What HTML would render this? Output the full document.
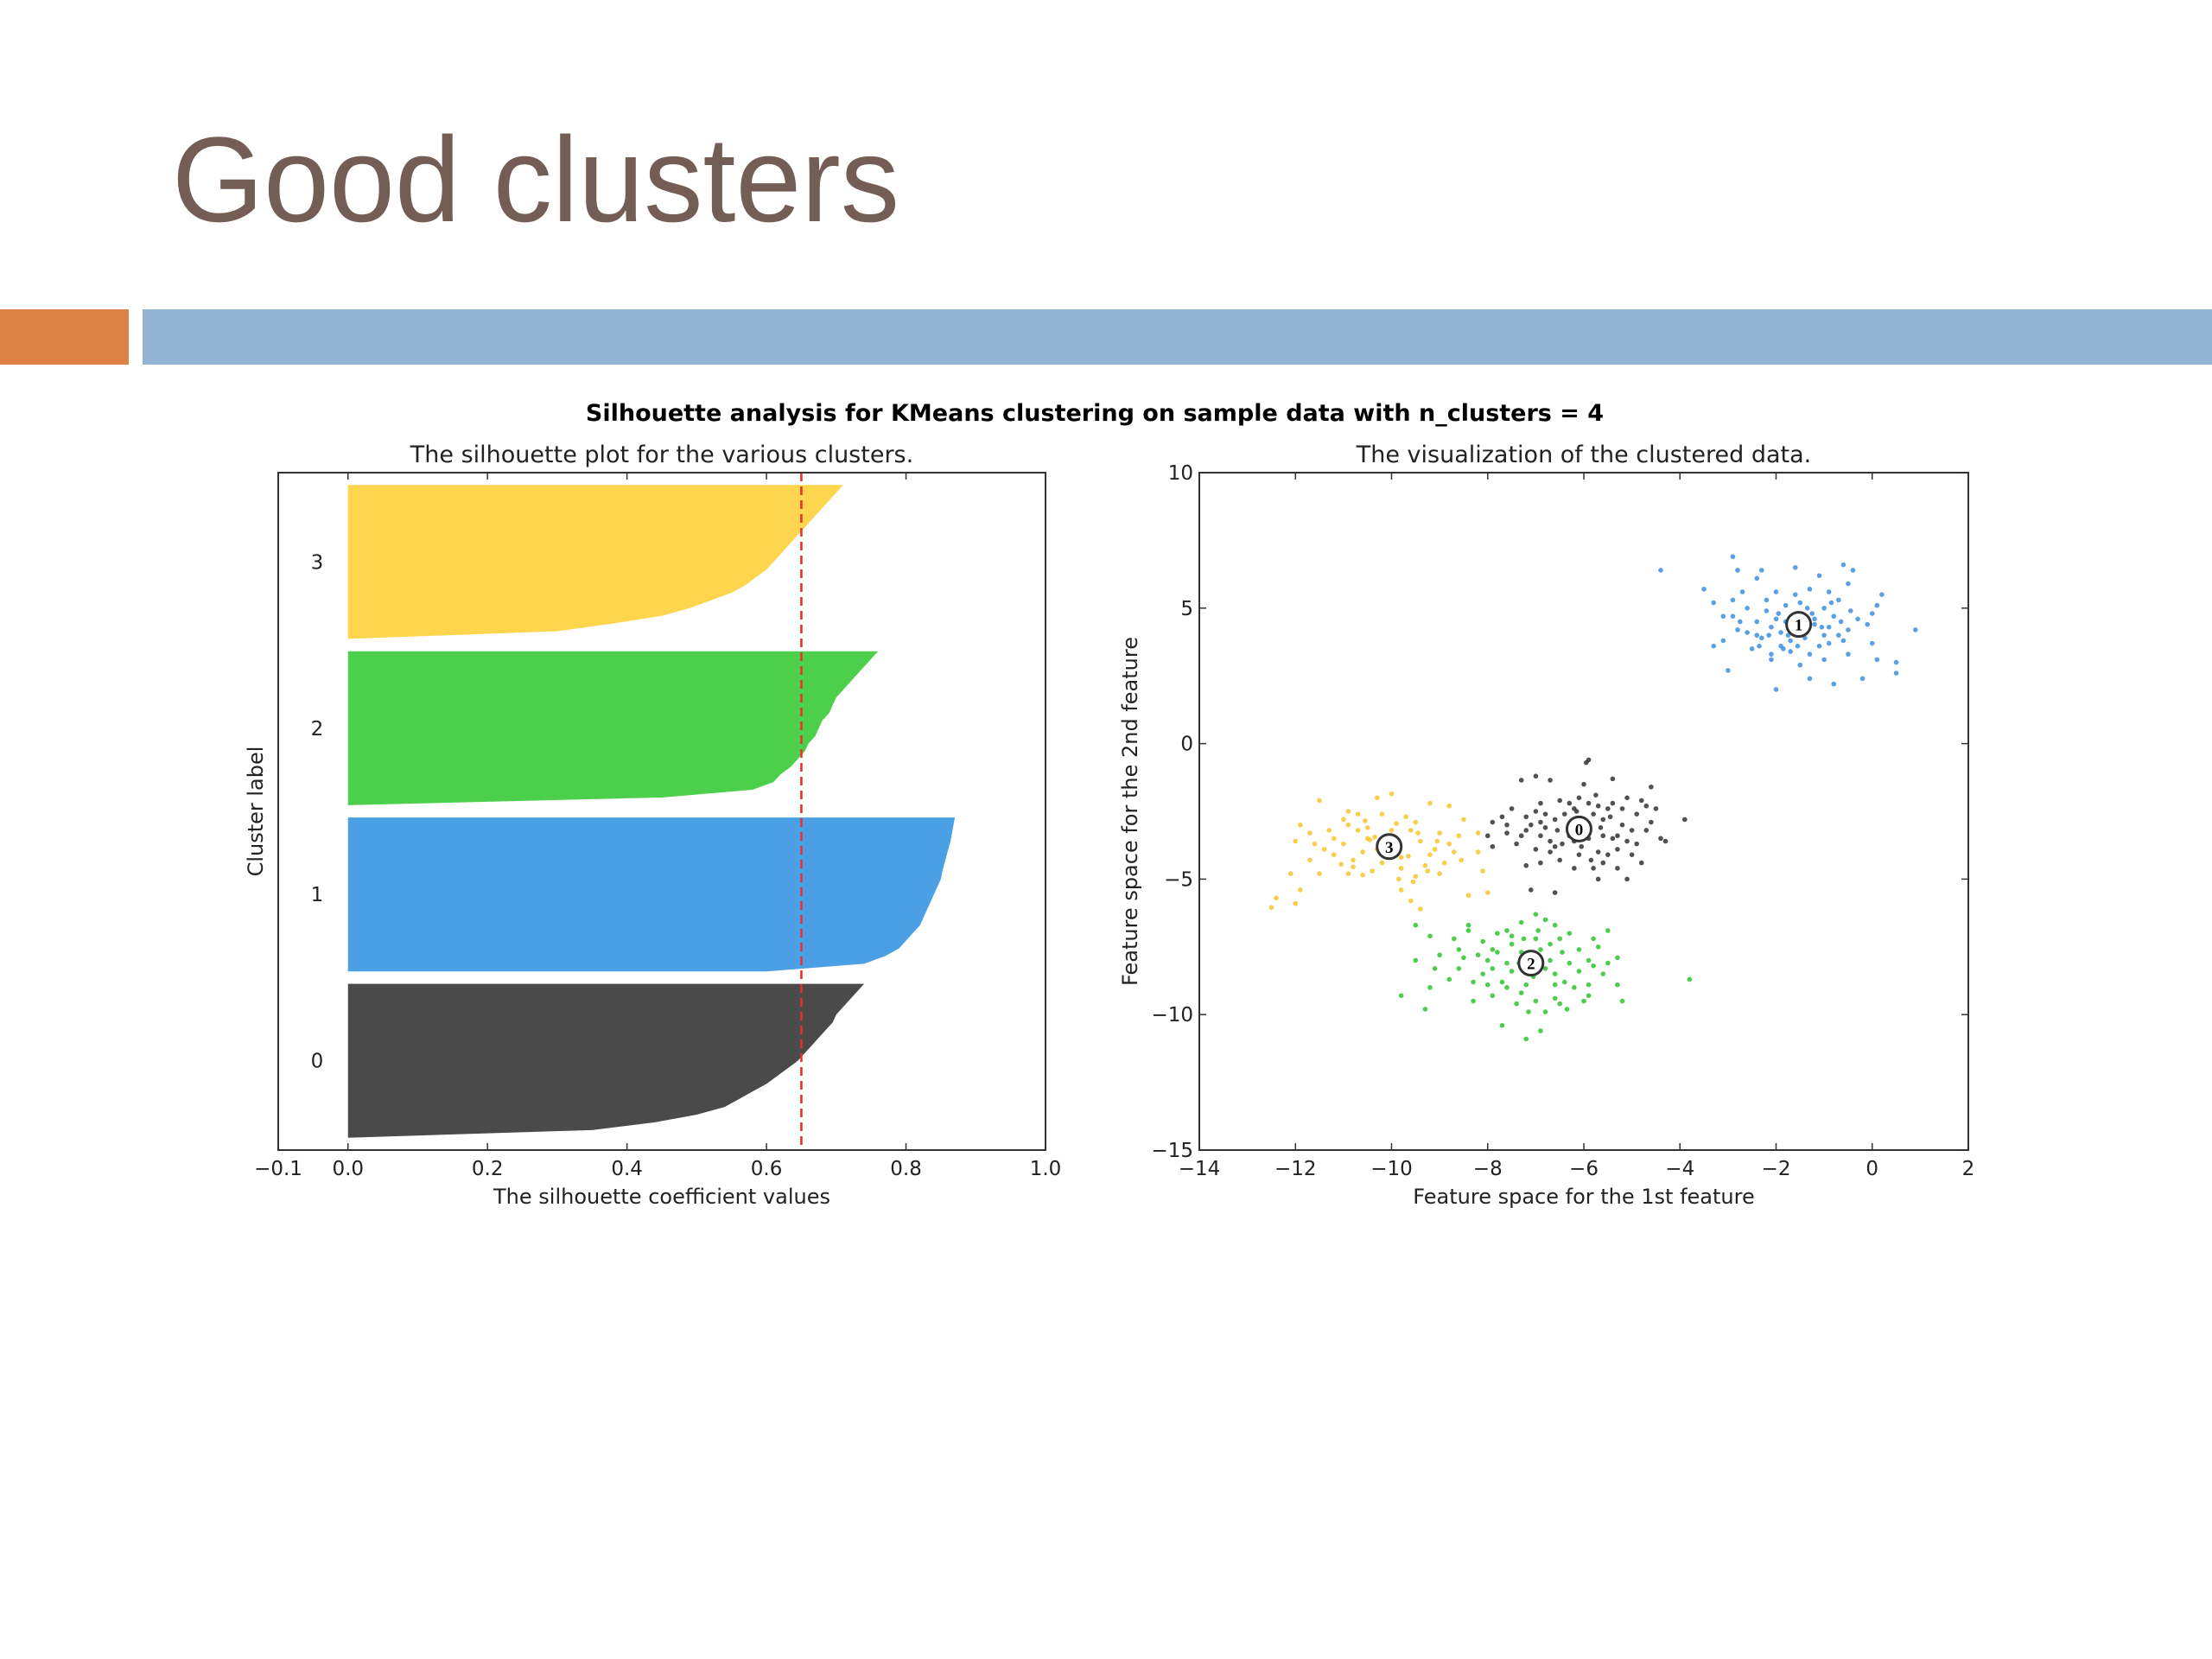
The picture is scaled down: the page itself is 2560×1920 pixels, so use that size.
<!DOCTYPE html>
<html><head><meta charset="utf-8"><style>
html,body{margin:0;padding:0;background:#fff;}
svg{display:block;}
text{font-family:"DejaVu Sans","Liberation Sans",sans-serif;fill:#222;}
</style></head><body>
<svg id="root" width="2560" height="1920" viewBox="0 0 2560 1920" xmlns="http://www.w3.org/2000/svg">
<rect width="2560" height="1920" fill="#fff"/>
<text x="199" y="256" font-size="140" textLength="842" lengthAdjust="spacingAndGlyphs" style="font-family:'Liberation Sans',sans-serif;fill:#745d55;">Good clusters</text>
<rect x="0" y="358" width="149" height="64" fill="#dd8145"/>
<rect x="165" y="358" width="2395" height="64" fill="#93b3d3"/>
<text x="1267" y="487" font-size="27" font-weight="bold" text-anchor="middle" style="fill:#000">Silhouette analysis for KMeans clustering on sample data with n_clusters = 4</text>
<g id="left"></g>
<g id="right"></g>
</svg>
<script>
// ---------- Silhouette data ----------
const clusterLabels = ["0","1","2","3"];
const clusterSizes = [125,125,125,125];
// sorted silhouette values sampled bottom->top at 21 evenly spaced fractions
const silC0 = [0.0,0.35,0.44,0.5,0.54,0.56,0.58,0.6,0.615,0.63,0.645,0.655,0.665,0.675,0.685,0.695,0.7,0.71,0.72,0.73,0.74];
const silC1 = [0.6,0.74,0.77,0.79,0.80,0.81,0.82,0.825,0.83,0.835,0.84,0.845,0.85,0.852,0.855,0.858,0.861,0.864,0.866,0.868,0.87];
const silC2 = [0.0,0.45,0.58,0.61,0.62,0.635,0.645,0.655,0.66,0.67,0.675,0.68,0.69,0.695,0.70,0.71,0.72,0.73,0.74,0.75,0.76];
const silC3 = [0.0,0.3,0.38,0.45,0.49,0.52,0.55,0.57,0.585,0.6,0.61,0.62,0.63,0.64,0.65,0.66,0.67,0.68,0.69,0.70,0.71];
const silAvg = 0.65;
const silXTicks = [-0.1,0.0,0.2,0.4,0.6,0.8,1.0];
const silXTickLabels = ["\u22120.1","0.0","0.2","0.4","0.6","0.8","1.0"];

// ---------- Scatter data ----------
const pts0 = [[-5.9,-0.6],[-5.95,-0.7],[-6.0,-1.5],[-7.0,-1.2],[-7.3,-1.35],[-6.7,-1.35],[-5.4,-1.3],[-4.6,-1.6],[-4.8,-2.1],[-4.7,-2.3],[-5.1,-2.0],[-5.4,-2.2],[-5.7,-2.3],[-6.1,-2.0],[-6.3,-2.2],[-6.5,-2.1],[-6.9,-2.2],[-7.2,-2.7],[-7.6,-3.0],[-7.1,-3.0],[-6.8,-3.1],[-6.6,-2.8],[-6.4,-2.6],[-5.8,-2.6],[-5.6,-2.8],[-5.2,-3.0],[-5.0,-3.2],[-5.6,-3.4],[-5.9,-3.5],[-6.3,-3.4],[-6.7,-3.6],[-7.0,-3.9],[-7.4,-3.7],[-7.6,-3.3],[-7.9,-3.8],[-8.0,-3.4],[-7.9,-2.9],[-3.9,-2.8],[-4.3,-3.6],[-4.4,-3.5],[-4.9,-3.7],[-5.3,-3.9],[-5.7,-4.0],[-6.1,-4.1],[-6.5,-4.3],[-6.9,-4.4],[-7.2,-4.5],[-5.8,-4.6],[-5.3,-4.6],[-4.8,-4.4],[-5.1,-5.0],[-5.7,-5.0],[-6.6,-5.5],[-7.1,-5.4],[-6.2,-4.6],[-6.6,-3.8],[-5.4,-3.5],[-6.0,-2.9],[-5.5,-4.1],[-6.3,-3.0],[-7.3,-3.4],[-4.9,-2.6],[-5.2,-2.4],[-6.8,-2.6],[-7.5,-2.4],[-5.75,-1.9],[-6.15,-2.5],[-5.45,-2.7],[-6.45,-3.7],[-5.85,-4.3],[-6.2,-2.4],[-5.5,-2.4],[-6.9,-3.4],[-7.2,-3.2],[-5.3,-3.4],[-5.1,-3.6],[-6.05,-3.8],[-5.65,-3.1],[-6.55,-3.2],[-4.6,-2.9],[-7.0,-2.5],[-5.9,-2.2],[-6.7,-4.0],[-4.5,-2.4],[-5.6,-4.4],[-6.9,-2.9],[-7.7,-2.7],[-5.0,-4.1],[-4.7,-3.2],[-6.2,-3.6]];
const pts1 = [[-4.4,6.4],[-2.9,6.9],[-2.8,6.4],[-2.3,6.4],[-1.6,6.5],[-0.6,6.6],[-0.4,6.4],[-1.1,6.2],[-2.4,6.1],[-3.5,5.7],[-3.3,5.2],[-2.9,5.3],[-2.7,5.6],[-2.0,5.6],[-1.6,5.5],[-1.3,5.7],[-0.9,5.6],[-0.5,5.9],[0.2,5.5],[-0.7,5.3],[-1.0,5.0],[-1.8,5.1],[-2.2,4.9],[-2.6,5.0],[-3.1,4.7],[-2.9,4.7],[-2.4,4.5],[-2.1,4.3],[-1.9,4.1],[-1.2,4.6],[-0.8,4.7],[-0.3,4.6],[0.0,4.8],[0.1,5.1],[0.9,4.2],[-0.1,4.4],[-0.5,4.2],[-1.0,4.0],[-1.4,3.9],[-1.7,3.8],[-2.3,3.9],[-2.8,4.2],[-3.1,3.8],[-3.3,3.6],[-2.5,3.5],[-2.1,3.3],[-1.7,3.4],[-1.3,3.3],[-0.9,3.7],[-0.6,3.8],[0.0,3.7],[0.5,3.0],[0.1,3.1],[0.5,2.6],[-0.5,3.3],[-1.0,3.1],[-1.5,2.9],[-1.9,3.6],[-2.1,3.1],[-3.0,2.7],[-1.3,2.4],[-0.8,2.2],[-2.0,2.0],[-0.2,2.4],[-1.6,4.3],[-1.8,4.5],[-1.4,4.2],[-1.2,4.4],[-2.6,4.1],[-0.9,4.3],[-1.5,5.2],[-2.0,4.6],[-0.7,4.0],[-1.1,3.6],[-2.4,4.0],[-1.75,4.0],[-1.55,3.6],[-1.85,3.5],[-1.25,4.8],[-1.05,4.3],[-0.85,5.2],[-2.2,5.3],[-2.75,4.5],[-1.95,4.8],[-1.35,5.0],[-0.45,4.9],[-2.35,3.6],[-0.65,4.5],[-1.45,4.6],[-2.15,4.0]];
const pts2 = [[-7.0,-6.3],[-6.8,-6.5],[-7.3,-6.6],[-6.6,-6.7],[-8.4,-6.7],[-8.4,-6.9],[-9.5,-6.7],[-7.6,-6.9],[-7.8,-7.0],[-6.3,-7.0],[-5.5,-6.9],[-5.8,-7.2],[-6.5,-7.2],[-7.0,-7.2],[-7.5,-7.4],[-8.1,-7.3],[-8.7,-7.2],[-9.2,-7.1],[-7.9,-7.6],[-7.3,-7.7],[-6.9,-7.6],[-6.1,-7.6],[-5.7,-7.5],[-9.0,-7.8],[-8.5,-7.9],[-8.0,-8.0],[-7.6,-8.1],[-6.7,-8.0],[-6.3,-8.1],[-5.9,-8.0],[-5.3,-7.9],[-9.5,-8.0],[-9.1,-8.3],[-8.6,-8.3],[-8.1,-8.5],[-7.5,-8.4],[-6.6,-8.5],[-6.1,-8.4],[-5.6,-8.5],[-8.8,-8.7],[-8.3,-8.8],[-7.7,-8.8],[-7.2,-8.9],[-6.4,-8.8],[-5.9,-8.9],[-5.3,-8.9],[-3.8,-8.7],[-9.8,-9.3],[-9.2,-9.0],[-7.9,-9.3],[-7.3,-9.2],[-6.6,-9.4],[-5.9,-9.3],[-9.3,-9.8],[-7.4,-9.6],[-7.0,-9.5],[-6.5,-9.6],[-6.0,-9.5],[-5.2,-9.5],[-6.8,-9.9],[-7.7,-10.4],[-7.2,-10.9],[-6.9,-10.6],[-7.1,-7.9],[-6.8,-8.3],[-7.25,-7.2],[-6.95,-6.9],[-7.8,-7.7],[-6.45,-7.7],[-7.35,-8.1],[-6.6,-8.9],[-7.6,-9.0],[-8.2,-7.8],[-5.8,-8.2],[-7.05,-8.6],[-6.2,-9.0],[-8.0,-8.9],[-7.5,-7.1],[-6.7,-7.4],[-8.6,-7.6],[-7.9,-8.3],[-6.35,-9.8],[-8.3,-9.5],[-5.5,-8.1],[-7.15,-9.9]];
const pts3 = [[-11.5,-2.1],[-10.3,-2.0],[-10.0,-1.85],[-9.2,-2.2],[-8.8,-2.3],[-10.7,-2.6],[-11.0,-2.8],[-10.2,-2.6],[-9.7,-2.7],[-9.5,-2.9],[-8.5,-2.8],[-11.9,-3.0],[-11.7,-3.3],[-10.9,-3.0],[-10.5,-3.1],[-10.1,-3.4],[-9.6,-3.2],[-9.0,-3.3],[-8.6,-3.4],[-8.2,-3.3],[-12.0,-3.6],[-11.4,-3.9],[-11.0,-3.7],[-10.5,-3.5],[-9.9,-3.8],[-9.4,-3.6],[-9.1,-3.9],[-8.7,-4.0],[-8.2,-4.0],[-11.7,-4.3],[-11.2,-4.1],[-10.8,-4.3],[-10.2,-4.4],[-9.8,-4.2],[-9.3,-4.5],[-8.9,-4.4],[-11.5,-4.8],[-10.9,-4.8],[-10.4,-4.7],[-9.8,-4.6],[-9.5,-4.9],[-9.0,-4.8],[-8.1,-4.7],[-12.1,-4.8],[-11.9,-5.4],[-12.4,-5.7],[-12.5,-6.05],[-12.0,-5.9],[-9.8,-5.4],[-9.6,-5.8],[-9.4,-6.1],[-8.4,-5.6],[-8.0,-5.5],[-10.7,-3.2],[-10.3,-3.9],[-9.2,-4.1],[-10.6,-4.0],[-10.0,-3.2],[-11.2,-3.5],[-8.8,-3.7],[-10.45,-3.55],[-10.35,-3.45],[-10.8,-4.55],[-10.6,-4.85],[-9.65,-4.15],[-9.45,-3.3],[-10.15,-4.1],[-11.05,-4.45],[-9.85,-5.0],[-9.25,-4.7],[-10.9,-2.5],[-9.9,-2.95],[-11.3,-3.2],[-8.55,-4.3],[-9.55,-5.1],[-10.55,-2.85],[-9.05,-3.6],[-11.6,-3.7]];
const centerX = [-6.1,-1.53,-7.1,-10.05];
const centerY = [-3.15,4.4,-8.1,-3.8];
const scXTicks = [-14,-12,-10,-8,-6,-4,-2,0,2];
const scYTicks = [-15,-10,-5,0,5,10];

const NS="http://www.w3.org/2000/svg";
function mk(tag,attrs,parent,txt){const e=document.createElementNS(NS,tag);for(const k in attrs)e.setAttribute(k,attrs[k]);if(txt!==undefined)e.textContent=txt;parent.appendChild(e);return e;}
const fmt=v=>(v<0?"\u2212":"")+Math.abs(v);

// ---- Left silhouette axes ----
const L={x0:322,x1:1210,y0:547,y1:1331};
const lx=v=>L.x0+(v-(-0.1))/1.1*(L.x1-L.x0);
const ly=v=>L.y1-v/550*(L.y1-L.y0);
const left=document.getElementById('left');
const silVals=[silC0,silC1,silC2,silC3];
const silColors=["#4a4a4a","#4a9fe5","#4cd04c","#fed64d"];
const bandNames=["silhouette-band-0","silhouette-band-1","silhouette-band-2","silhouette-band-3"];
let yl=10;
for(let c=0;c<4;c++){
  const vals=silVals[c],n=clusterSizes[c],yu=yl+n;
  let d=`M${lx(0)},${ly(yl)}`;
  for(let i=0;i<vals.length;i++){const yy=yl+n*i/(vals.length-1);d+=` L${lx(vals[i])},${ly(yy)}`;}
  d+=` L${lx(0)},${ly(yu)} Z`;
  const p=mk('path',{d:d,fill:silColors[c]},left);
  
  
  const t=mk('text',{x:367,y:ly(yl+n/2)+8,'font-size':23,'text-anchor':'middle'},left,clusterLabels[c]);
  
  
  yl=yu+10;
}
const avg=mk('line',{x1:lx(silAvg),x2:lx(silAvg),y1:L.y0,y2:L.y1,stroke:"#e8302a",'stroke-width':2.5,'stroke-dasharray':'10,6'},left);


const lf=mk('rect',{x:L.x0,y:L.y0,width:L.x1-L.x0,height:L.y1-L.y0,fill:'none',stroke:'#333','stroke-width':2},left);


for(let i=0;i<silXTicks.length;i++){
  const x=lx(silXTicks[i]);
  mk('line',{x1:x,x2:x,y1:L.y1,y2:L.y1-8,stroke:'#333','stroke-width':1.5},left);
  mk('line',{x1:x,x2:x,y1:L.y0,y2:L.y0+8,stroke:'#333','stroke-width':1.5},left);
  const t=mk('text',{x:x,y:1360,'font-size':23,'text-anchor':'middle'},left,silXTickLabels[i]);
  
  
}
let t;
t=mk('text',{x:766,y:535,'font-size':27,'text-anchor':'middle'},left,"The silhouette plot for the various clusters.");


t=mk('text',{x:766,y:1393,'font-size':24,'text-anchor':'middle'},left,"The silhouette coefficient values");


t=mk('text',{x:0,y:0,'font-size':24,'text-anchor':'middle',transform:'translate(304,939) rotate(-90)'},left,"Cluster label");



// ---- Right scatter axes ----
const R={x0:1388,x1:2278,y0:547,y1:1331};
const sx=v=>R.x0+(v+14)/16*(R.x1-R.x0);
const sy=v=>R.y1-(v+15)/25*(R.y1-R.y0);
const right=document.getElementById('right');
const ptSets=[pts0,pts1,pts2,pts3];
const ptColors=["#333333","#3d8fe0","#2ec42e","#f7c52a"];
for(let c=0;c<4;c++){
  const g=mk('g',{},right);
  
  
  for(const p of ptSets[c]){
    const e=mk('circle',{cx:sx(p[0]),cy:sy(p[1]),r:2.8,fill:ptColors[c],'fill-opacity':0.85},g);
    
    
  }
}
for(let c=0;c<4;c++){
  const cx=sx(centerX[c]),cy=sy(centerY[c]);
  const e=mk('circle',{cx:cx,cy:cy,r:14,fill:'#fff',stroke:'#333','stroke-width':3},right);
  
  
  const tt=mk('text',{x:cx,y:cy+7,'font-size':19,'font-weight':'bold','text-anchor':'middle',style:"font-family:'Liberation Serif',serif;fill:#000"},right,clusterLabels[c]);
  
  
}
const rf=mk('rect',{x:R.x0,y:R.y0,width:R.x1-R.x0,height:R.y1-R.y0,fill:'none',stroke:'#333','stroke-width':2},right);


for(const v of scXTicks){
  const x=sx(v);
  mk('line',{x1:x,x2:x,y1:R.y1,y2:R.y1-8,stroke:'#333','stroke-width':1.5},right);
  mk('line',{x1:x,x2:x,y1:R.y0,y2:R.y0+8,stroke:'#333','stroke-width':1.5},right);
  const e=mk('text',{x:x,y:1360,'font-size':23,'text-anchor':'middle'},right,fmt(v));
  
  
}
for(const v of scYTicks){
  const y=sy(v);
  mk('line',{x1:R.x0,x2:R.x0+8,y1:y,y2:y,stroke:'#333','stroke-width':1.5},right);
  mk('line',{x1:R.x1,x2:R.x1-8,y1:y,y2:y,stroke:'#333','stroke-width':1.5},right);
  const e=mk('text',{x:1381,y:y+8,'font-size':23,'text-anchor':'end'},right,fmt(v));
  
  
}
t=mk('text',{x:1833,y:535,'font-size':27,'text-anchor':'middle'},right,"The visualization of the clustered data.");


t=mk('text',{x:1833,y:1393,'font-size':24,'text-anchor':'middle'},right,"Feature space for the 1st feature");


t=mk('text',{x:0,y:0,'font-size':24,'text-anchor':'middle',transform:'translate(1316,939) rotate(-90)'},right,"Feature space for the 2nd feature");


</script>
</body></html>
